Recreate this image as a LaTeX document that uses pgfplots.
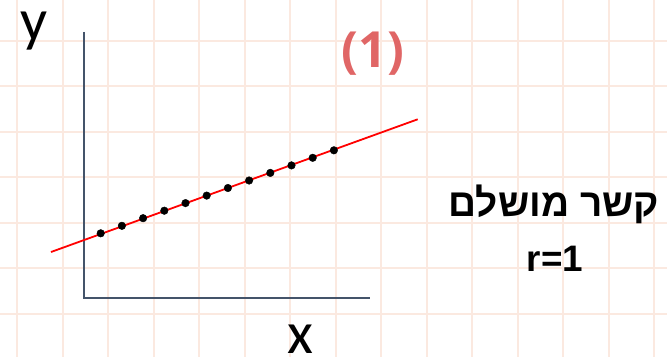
\documentclass[border=0pt]{standalone}
\usepackage{pgfplots}
\pgfplotsset{compat=1.18}
\usepackage{fontspec}
\setmainfont{Carlito}
\newfontfamily\hebfont[Script=Hebrew]{Liberation Sans}
\newfontfamily\arialfont{Liberation Sans}
\newfontfamily\opensans{Open Sans}
\TeXXeTstate=1
\definecolor{gridc}{RGB}{251,233,224}
\definecolor{axc}{RGB}{68,84,106}
\definecolor{titlec}{RGB}{224,102,102}
\begin{document}
\begin{tikzpicture}
\begin{axis}[
  width=667bp, height=357bp, scale only axis,
  xmin=0, xmax=667, ymin=0, ymax=357, y dir=reverse,
  axis line style={draw=none},
  xtick={17.3,62.8,108.3,153.8,199.3,244.8,290.3,335.8,381.3,426.8,472.3,517.8,563.3,608.8,654.3},
  ytick={40.7,86.2,131.7,177.2,222.7,268.2,313.7},
  xticklabel=\empty, yticklabel=\empty,
  major tick length=0pt,
  grid=major,
  major grid style={gridc, line width=2.2bp},
  clip=true,
]
% axes
\addplot[axc, line width=2bp, no markers] coordinates {(84,32) (84,298) (370,298)};
% fit line
\addplot[red, line width=1.8bp, no markers] coordinates {(51,252) (417.7,119.3)};
% points
\addplot[only marks, mark=*, mark size=3.8bp, black] coordinates {
(100.7,233.3) (121.9,225.8) (143.1,218.2) (164.3,210.7) (185.5,203.1) (206.7,195.6)
(227.9,188.0) (249.1,180.5) (270.3,172.9) (291.5,165.4) (312.7,157.8) (333.9,150.3)};
\node[anchor=base, inner sep=0pt, font=\fontsize{60}{60}\selectfont] at (axis cs:34,40) {\smash{y}};
\node[anchor=base, inner sep=0pt, font=\fontsize{60}{60}\selectfont] at (axis cs:300,353) {\smash{x}};
\node[anchor=base, inner sep=0pt, text=titlec, font=\opensans\bfseries\fontsize{50}{50}\selectfont] at (axis cs:373,67.5) {(1)};
\node[anchor=base, inner sep=0pt, font=\hebfont\bfseries\fontsize{39}{39}\selectfont] at (axis cs:554,216.7) {\beginR קשר מושלם\endR};
\node[anchor=base, inner sep=0pt, font=\arialfont\bfseries\fontsize{37}{37}\selectfont] at (axis cs:555,271.7) {r=1};
\end{axis}
\pgfresetboundingbox
\path[use as bounding box] (current axis.south west) rectangle (current axis.north east);
\end{tikzpicture}
\end{document}
